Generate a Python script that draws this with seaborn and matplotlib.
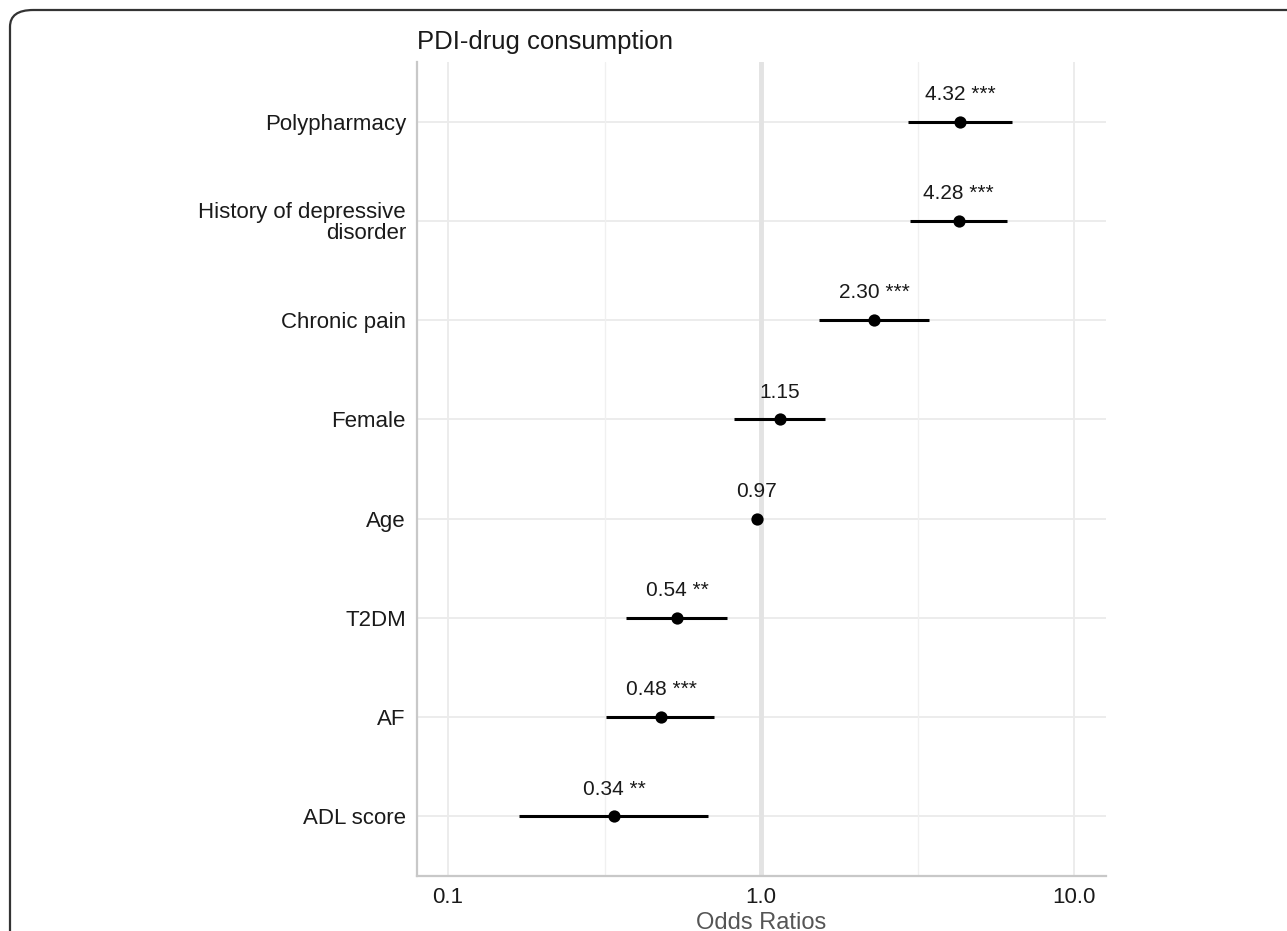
import numpy as np
import pandas as pd
import matplotlib
matplotlib.use("Agg")
import matplotlib.pyplot as plt
from matplotlib.patches import FancyBboxPatch
import seaborn as sns

categories = ["Polypharmacy", "History of depressive\ndisorder", "Chronic pain",
              "Female", "Age", "T2DM", "AF", "ADL score"]
odds = [4.32, 4.28, 2.30, 1.15, 0.97, 0.54, 0.48, 0.34]
ci_low = [2.94, 3.00, 1.53, 0.82, 0.96, 0.37, 0.32, 0.168]
ci_high = [6.33, 6.10, 3.45, 1.60, 0.98, 0.78, 0.71, 0.676]
stars = ["***", "***", "***", "", "", "**", "***", "**"]
x_ticks = [0.1, 1.0, 10.0]
x_tick_labels = ["0.1", "1.0", "10.0"]
minor_ticks = [10 ** -0.5, 10 ** 0.5]

df = pd.DataFrame({"cat": categories, "or": odds, "lo": ci_low, "hi": ci_high, "star": stars})
df["pos"] = np.arange(len(df))

sns.set_theme(style="white")
plt.rcParams["font.family"] = ["Liberation Sans", "DejaVu Sans"]

fig = plt.figure(figsize=(12.87, 9.31), dpi=100)
ax = fig.add_axes([417 / 1287, 1 - 876 / 931, (1106 - 417) / 1287, (876 - 62) / 931])

ax.set_xscale("log")
ax.set_xlim(10 ** (-1 - 31 / 313), 10 ** (1 + 32 / 313))
ax.set_ylim(len(df) - 1 + 0.6, -0.6)

# grid
for p in df["pos"]:
    ax.axhline(p, color="#ebebeb", lw=1.3, zorder=0)
for t in x_ticks:
    ax.axvline(t, color="#ebebeb", lw=1.3, zorder=0)
for t in minor_ticks:
    ax.axvline(t, color="#f0f0f0", lw=1.0, zorder=0)
ax.axvline(1.0, color="#e3e3e3", lw=3.5, zorder=0.5)

ax.hlines(df["pos"], df["lo"], df["hi"], color="black", lw=2.2, zorder=2)
sns.scatterplot(data=df, x="or", y="pos", color="black", s=78, edgecolor="black",
                linewidth=0, zorder=3, ax=ax, legend=False)

for _, r in df.iterrows():
    lab = f"{r['or']:.2f}" + (f" {r['star']}" if r["star"] else "")
    ax.text(r["or"], r["pos"] - 0.22, lab, ha="center", va="baseline",
            fontsize=15, color="#1a1a1a")

ax.set_yticks(df["pos"])
ax.set_yticklabels(df["cat"], fontsize=16, color="#1a1a1a", ha="right", linespacing=1.0)
ax.set_xticks(x_ticks)
ax.set_xticklabels(x_tick_labels, fontsize=16, color="#1a1a1a")
ax.xaxis.set_minor_locator(matplotlib.ticker.NullLocator())
ax.tick_params(axis="y", length=0, pad=8)
ax.tick_params(axis="x", length=0, pad=8)

ax.set_xlabel("Odds Ratios", fontsize=17, color="#555555", labelpad=3)
ax.set_ylabel("")
ax.set_title("PDI-drug consumption", loc="left", fontsize=18.5, color="#1a1a1a", pad=9, x=0.0)

for s in ["top", "right"]:
    ax.spines[s].set_visible(False)
for s in ["left", "bottom"]:
    ax.spines[s].set_color("#c8c8c8")
    ax.spines[s].set_linewidth(1.6)

# outer rounded frame (cropped at right and bottom)
frame = FancyBboxPatch((10 / 1287, -0.2), 1.5, 1.2 - 10 / 931,
                       boxstyle="round,pad=0,rounding_size=0.018",
                       transform=fig.transFigure, fill=False, edgecolor="#333333",
                       lw=1.6, clip_on=False)
fig.patches.append(frame)

fig.savefig("out.png", dpi=100)
